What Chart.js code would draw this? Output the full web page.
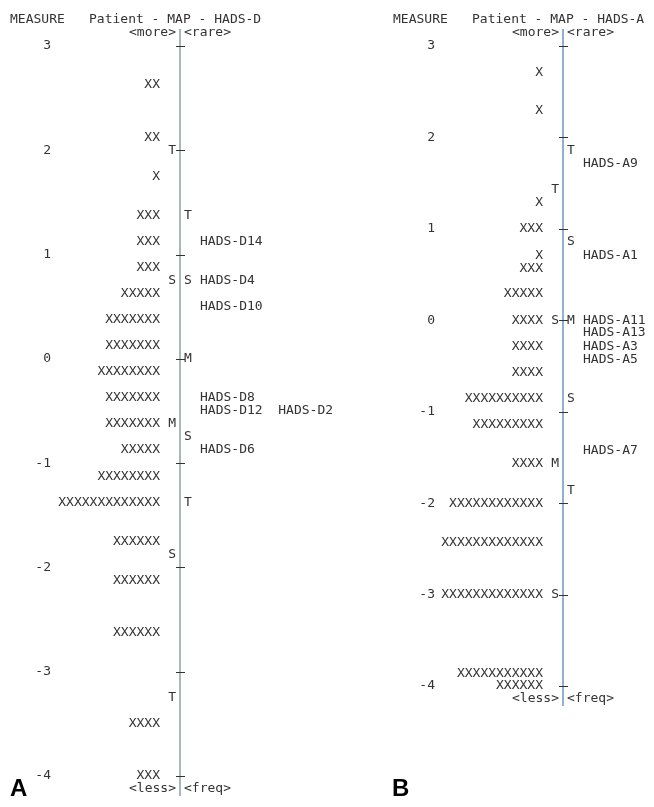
<!DOCTYPE html>
<html>
<head>
<meta charset="utf-8">
<script src="https://cdn.jsdelivr.net/npm/chart.js@4.4.1/dist/chart.umd.min.js"></script>
<style>
  body { margin: 0; background: #fff; }
  #wrap { position: relative; width: 654px; height: 807px; }
  canvas { position: absolute; top: 0; }
  #chartA { left: 0; }
  #chartB { left: 380px; }
  .panel-tag { position: absolute; font: bold 24px "Liberation Sans", Arial, sans-serif; color: #000; }
</style>
</head>
<body>
<div id="wrap">
  <canvas id="chartA" width="380" height="807"></canvas>
  <canvas id="chartB" width="274" height="807"></canvas>
  <div class="panel-tag" style="left:10px; top:774px;">A</div>
  <div class="panel-tag" style="left:392px; top:774px;">B</div>
</div>
<script>
// --- HADS-D (panel A) ---
const dTitle = 'Patient - MAP - HADS-D';
const dPersonMeasure = [2.625, 2.125, 1.75, 1.375, 1.125, 0.875, 0.625, 0.375, 0.125, -0.125, -0.375, -0.625, -0.875, -1.125, -1.375, -1.75, -2.125, -2.625, -3.5, -4.0];
const dPersonCount = [2, 2, 1, 3, 3, 3, 5, 7, 7, 8, 7, 7, 5, 8, 13, 6, 6, 6, 4, 3];
const dPersonMarks = ['T', 'S', 'M', 'S', 'T'];
const dPersonMarkMeasure = [2.0, 0.75, -0.625, -1.875, -3.25];
const dItemMarks = ['T', 'S', 'M', 'S', 'T'];
const dItemMarkMeasure = [1.375, 0.75, 0, -0.75, -1.375];
const dItems = ['HADS-D14', 'HADS-D4', 'HADS-D10', 'HADS-D8', 'HADS-D12', 'HADS-D2', 'HADS-D6'];
const dItemMeasure = [1.125, 0.75, 0.5, -0.375, -0.5, -0.5, -0.875];

// --- HADS-A (panel B) ---
const aTitle = 'Patient - MAP - HADS-A';
const aPersonMeasure = [2.71, 2.29, 1.29, 1.0, 0.71, 0.57, 0.29, 0, -0.29, -0.57, -0.86, -1.14, -1.57, -2.0, -2.43, -3.0, -3.86, -4.0];
const aPersonCount = [1, 1, 1, 3, 1, 3, 5, 4, 4, 4, 10, 9, 4, 12, 13, 13, 11, 6];
const aPersonMarks = ['T', 'S', 'M', 'S'];
const aPersonMarkMeasure = [1.43, 0, -1.57, -3.0];
const aItemMarks = ['T', 'S', 'M', 'S', 'T'];
const aItemMarkMeasure = [1.86, 0.86, 0, -0.86, -1.86];
const aItems = ['HADS-A9', 'HADS-A1', 'HADS-A11', 'HADS-A13', 'HADS-A3', 'HADS-A5', 'HADS-A7'];
const aItemMeasure = [1.71, 0.71, 0, -0.14, -0.29, -0.43, -1.43];

const measureTicks = [3, 2, 1, 0, -1, -2, -3, -4];

const MONO = '13px "DejaVu Sans Mono", monospace';
const TEXT = '#333';

// draws the vertical axis, the "+" ticks and every text row at its point position
const wrightText = {
  id: 'wrightText',
  afterDatasetsDraw(chart, args, opts) {
    const ctx = chart.ctx;
    const xs = chart.scales.x, ys = chart.scales.y;
    const ax = xs.getPixelForValue(0);
    ctx.save();
    ctx.strokeStyle = opts.axisColor;
    ctx.lineWidth = 1.5;
    ctx.beginPath();
    ctx.moveTo(ax, ys.getPixelForValue(opts.top) - 4);
    ctx.lineTo(ax, ys.getPixelForValue(opts.bottom) + 7);
    ctx.stroke();

    ctx.strokeStyle = TEXT;
    ctx.lineWidth = 1;
    ys.ticks.forEach(t => {
      const py = Math.round(ys.getPixelForValue(t.value)) + 0.5;
      ctx.beginPath();
      ctx.moveTo(ax - 4, py);
      ctx.lineTo(ax + 5, py);
      ctx.stroke();
    });

    ctx.font = MONO;
    ctx.fillStyle = TEXT;
    ctx.textBaseline = 'middle';
    chart.data.datasets.forEach((ds, i) => {
      const meta = chart.getDatasetMeta(i);
      ctx.textAlign = ds.align;
      meta.data.forEach((pt, j) => ctx.fillText(ds.texts[j], pt.x, pt.y));
    });
    ctx.restore();
  }
};

function groupItems(names, vals) {
  const groups = [];
  names.forEach((n, k) => {
    const g = groups.find(g => g.y === vals[k]);
    if (g) g.names.push(n);
    else groups.push({ y: vals[k], names: [n] });
  });
  return groups;
}

function textSet(align, x, texts, ys) {
  return {
    data: ys.map(v => ({ x: x, y: v })),
    texts: texts,
    align: align,
    pointRadius: 0,
    showLine: false
  };
}

function buildChart(id, p) {
  const groups = groupItems(p.items, p.itemVals);
  const headY = 3 + 2 / p.rows;
  const moreY = 3 + 1 / p.rows;
  const lessY = -4 - 1 / p.rows;

  return new Chart(document.getElementById(id), {
    type: 'scatter',
    data: {
      datasets: [
        textSet('right', -2.0, p.counts.map(n => 'X'.repeat(n)), p.persons),
        textSet('right', -0.4, p.pMarks, p.pMarkVals),
        textSet('left', 0.4, p.iMarks, p.iMarkVals),
        textSet('left', 2.0, groups.map(g => g.names.join('  ')), groups.map(g => g.y)),
        textSet('left', -17.0, ['MEASURE'], [headY]),
        textSet('left', -9.1, [p.title], [headY]),
        textSet('right', -0.4, ['<more>', '<less>'], [moreY, lessY]),
        textSet('left', 0.4, ['<rare>', '<freq>'], [moreY, lessY])
      ]
    },
    options: {
      responsive: false,
      animation: false,
      events: [],
      layout: { padding: { top: 46, bottom: p.padBottom, left: 0, right: 0 } },
      plugins: {
        legend: { display: false },
        tooltip: { enabled: false },
        wrightText: { axisColor: p.axisColor, top: moreY, bottom: lessY }
      },
      scales: {
        x: { type: 'linear', display: false, min: p.xMin, max: p.xMax },
        y: {
          type: 'linear',
          min: -4,
          max: 3,
          afterFit: s => { s.width = p.yWidth; },
          afterBuildTicks: s => { s.ticks = measureTicks.map(v => ({ value: v })); },
          grid: { display: false, drawTicks: false },
          border: { display: false },
          ticks: {
            padding: 9,
            color: TEXT,
            font: { family: 'DejaVu Sans Mono', size: 13 }
          }
        }
      }
    },
    plugins: [wrightText]
  });
}

buildChart('chartA', {
  title: dTitle, rows: 8,
  persons: dPersonMeasure, counts: dPersonCount,
  pMarks: dPersonMarks, pMarkVals: dPersonMarkMeasure,
  iMarks: dItemMarks, iMarkVals: dItemMarkMeasure,
  items: dItems, itemVals: dItemMeasure,
  xMin: -12, xMax: 20, yWidth: 60, padBottom: 31, axisColor: '#88a5a2'
});

buildChart('chartB', {
  title: aTitle, rows: 7,
  persons: aPersonMeasure, counts: aPersonCount,
  pMarks: aPersonMarks, pMarkVals: aPersonMarkMeasure,
  iMarks: aItemMarks, iMarkVals: aItemMarkMeasure,
  items: aItems, itemVals: aItemMeasure,
  xMin: -11.9, xMax: 9.1, yWidth: 64, padBottom: 121, axisColor: '#6d95c2'
});
</script>
</body>
</html>
